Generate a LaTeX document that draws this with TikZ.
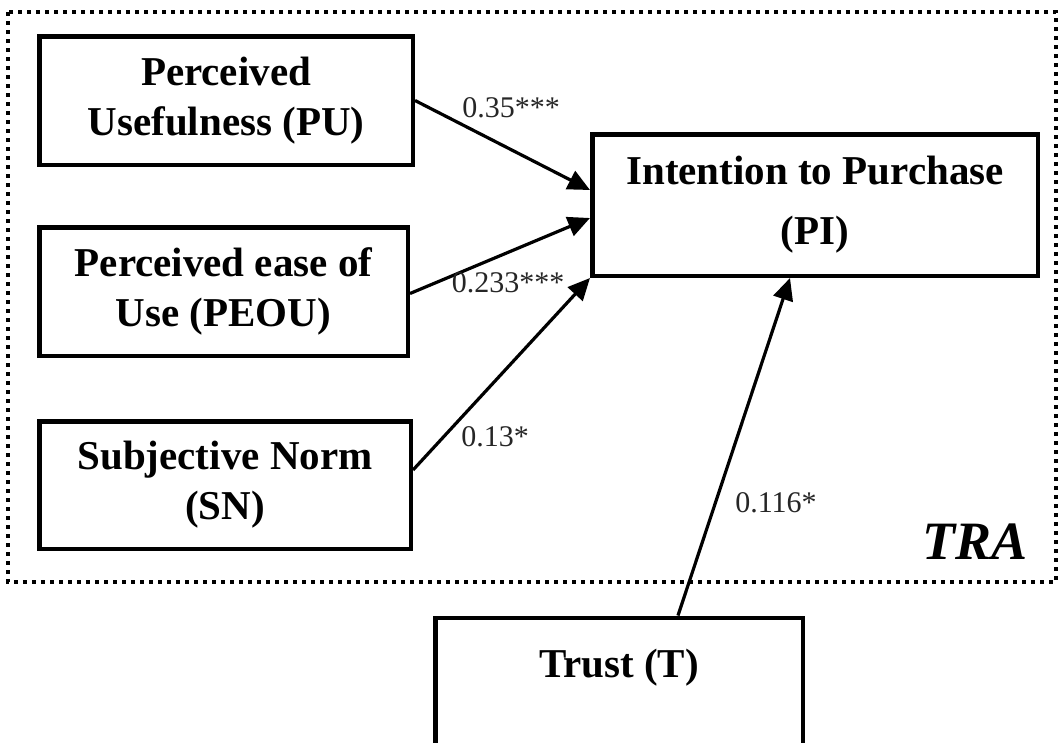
\documentclass[tikz,border=0pt]{standalone}
\usepackage{fontspec}
\setmainfont{Liberation Serif}
\usetikzlibrary{arrows.meta,calc}
\tikzset{
  box/.style={draw, line width=4.5pt, align=center, inner sep=0pt,
    font=\bfseries\fontsize{41}{50}\selectfont},
  conn/.style={line width=3.2pt, -{Triangle[length=22pt,width=20pt]}},
  coef/.style={font=\fontsize{30}{34}\selectfont, text=black!85, inner sep=0pt},
  tra/.style={dash pattern=on 4pt off 5pt, line width=4pt}
}
\begin{document}
\begin{tikzpicture}[x=1pt,y=-1pt]
\useasboundingbox (0,0) rectangle (1064,742);
\clip (0,0) rectangle (1064,742);
\fill[white] (0,0) rectangle (1064,742);
\draw[tra] (8,12) rectangle (1056,582);
\node[box, minimum width=373.5pt, minimum height=128.5pt] (PU) at (226,100.5) {Perceived\\Usefulness (PU)};
\node[box, minimum width=368.5pt, minimum height=128.5pt] (PEOU) at (223.5,291.5) {Perceived ease of\\Use (PEOU)};
\node[box, minimum width=371.5pt, minimum height=127.5pt] (SN) at (225,485) {Subjective Norm\\(SN)};
\node[box, minimum width=445.5pt, minimum height=141.5pt, font=\bfseries\fontsize{41}{60}\selectfont] (PI) at (815,205) {Intention to Purchase\\(PI)};
\node[box, anchor=north, minimum width=367.5pt, text height=60pt, text depth=140pt] (T) at (619,615.5) {Trust (T)};
\node[font=\bfseries\itshape\fontsize{54}{60}\selectfont, inner sep=0pt] (TRA) at (975,542) {TRA};
\draw[conn] (PU.east) -- ($(PI.west)+(0,-15)$);
\draw[conn] ($(PEOU.east)+(0,2)$) -- ($(PI.west)+(0,13)$);
\draw[conn] ($(SN.east)+(0,-15)$) -- (PI.south west);
\draw[conn] ($(T.north)+(59,0)$) -- ($(PI.south)+(-25,0)$);
\node[coef] (c1) at (511,108) {0.35***};
\node[coef] (c2) at (508,283) {0.233***};
\node[coef] (c3) at (495,437) {0.13*};
\node[coef] (c4) at (776,503) {0.116*};
\end{tikzpicture}
\end{document}
